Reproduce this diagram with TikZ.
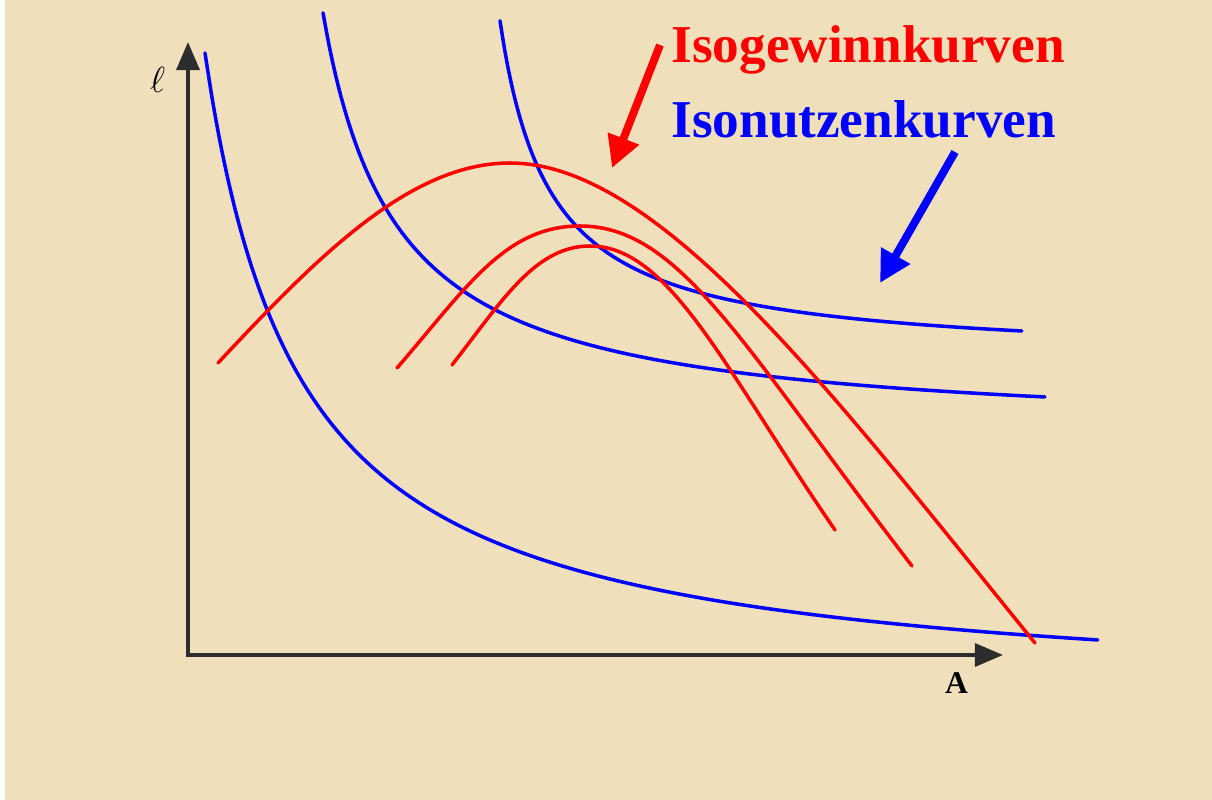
\documentclass[tikz,border=0pt]{standalone}
\usepackage{fontspec}
\setmainfont{Liberation Serif}
\usetikzlibrary{arrows.meta}
\definecolor{paper}{RGB}{239,223,186}
\definecolor{axisgray}{RGB}{45,45,45}
\tikzset{
  axisline/.style={draw=axisgray, line width=2.3pt, -{Triangle[length=16pt,width=13pt]}},
  bluecurve/.style={draw=blue, line width=2pt, line cap=round},
  redcurve/.style={draw=red, line width=2pt, line cap=round},
  pointer/.style={line width=4.5pt, -{Triangle[length=18pt,width=18pt]}},
  titletext/.style={inner sep=0pt, anchor=base west, font=\bfseries\fontsize{30.3}{36}\selectfont},
}
\begin{document}
\begin{tikzpicture}[x=2cm,y=-2cm]
\useasboundingbox (0,0) rectangle (12.12,8.00);
\fill[white] (0,0) rectangle (12.12,8.00);
\fill[paper] (0.05,0) rectangle (12.12,8.00);

% axes
\coordinate (O) at (1.88,6.55);
\coordinate (ytip) at (1.88,0.42);
\coordinate (xtip) at (10.03,6.55);
\draw[axisline] (O) -- (ytip);
\draw[axisline] ([xshift=-1.15pt]O) -- (xtip);
\node[inner sep=0pt, anchor=base] (ylab) at (1.575,0.93) {\fontsize{21}{24}\selectfont$\ell$};
\node[inner sep=0pt, anchor=base] (xlab) at (9.565,6.93) {\bfseries\fontsize{18}{20}\selectfont A};

% blue iso-utility curves
\draw[bluecurve] plot[domain=2.05:10.98, samples=120, smooth] (\x, {7.024-6.1698/(\x-1.10)});
\draw[bluecurve] plot[domain=3.23:10.45, samples=120, smooth] (\x, {4.358-3.0875/(\x-2.50)});
\draw[bluecurve] plot[domain=5.00:10.22, samples=120, smooth] (\x, {3.607-1.6998/(\x-4.50)});

% red iso-profit curves
\coordinate (r1s) at (2.18,3.63);
\coordinate (r1p) at (5.10,1.63);
\coordinate (r1e) at (10.35,6.43);
\draw[redcurve] (r1s) .. controls (3.18,2.56) and (4.10,1.63) .. (r1p)
                      .. controls (6.60,1.63) and (8.35,3.97) .. (r1e);
\coordinate (r2s) at (3.97,3.68);
\coordinate (r2p) at (5.80,2.26);
\coordinate (r2e) at (9.12,5.66);
\draw[redcurve] (r2s) .. controls (4.67,2.87) and (5.05,2.26) .. (r2p)
                      .. controls (6.80,2.26) and (7.42,3.45) .. (r2e);
\coordinate (r3s) at (4.52,3.65);
\coordinate (r3p) at (5.90,2.46);
\coordinate (r3e) at (8.35,5.30);
\draw[redcurve] (r3s) .. controls (5.02,3.01) and (5.35,2.46) .. (r3p)
                      .. controls (6.70,2.46) and (7.25,3.70) .. (r3e);

% labels and pointers
\node[titletext, text=red] (isogewinn) at (6.71,0.63) {Isogewinnkurven};
\node[titletext, text=blue] (isonutzen) at (6.71,1.38) {Isonutzenkurven};
\coordinate (rs) at (6.60,0.45);
\coordinate (rt) at (6.12,1.68);
\coordinate (bs) at (9.55,1.52);
\coordinate (bt) at (8.80,2.83);
\draw[pointer, draw=red, fill=red] (rs) -- (rt);
\draw[pointer, draw=blue, fill=blue] (bs) -- (bt);
\end{tikzpicture}
\end{document}
